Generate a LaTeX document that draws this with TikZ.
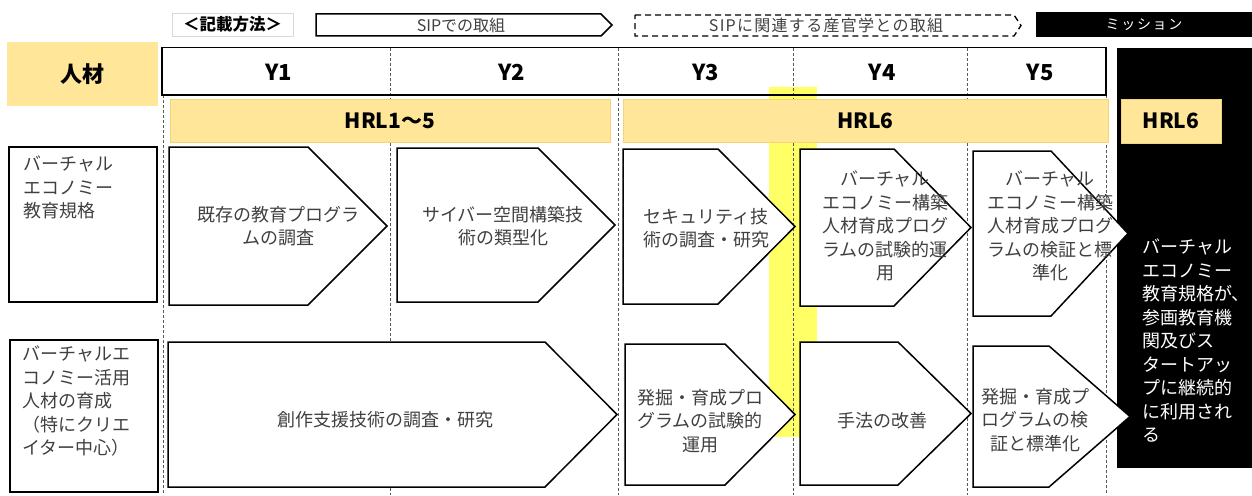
\documentclass[tikz,border=0pt]{standalone}
\usepackage{fontspec}
\setmainfont{Noto Sans CJK JP}
\usepackage{xcolor}
\definecolor{cGold}{HTML}{FFE699}
\definecolor{cGoldLine}{HTML}{F2D47C}
\definecolor{cHigh}{HTML}{FFFF66}
\definecolor{cText}{HTML}{404040}
\definecolor{cGrid}{HTML}{595959}
\definecolor{cLegend}{HTML}{D9D9D9}
\usepackage{tikz}
\usetikzlibrary{positioning}
\tikzset{
  box-label/.style={draw=black,line width=1.4pt},
  box-legend/.style={draw=cLegend,line width=0.8pt,inner sep=0pt,
    minimum width=121pt,minimum height=23pt,
    font=\fontsize{16.5}{19}\selectfont\bfseries},
  box-mission/.style={fill=black,inner sep=0pt,text=white,
    font=\fontsize{14}{17}\selectfont\addfontfeature{LetterSpace=12}},
  bar-gold/.style={fill=cGold,draw=cGoldLine,line width=0.6pt,inner sep=0pt},
  chev/.style={draw=black,line width=1.5pt,fill=white,line join=miter},
  text-label/.style={anchor=north west,align=left,inner sep=0pt,
    font=\fontsize{18}{23.5}\selectfont,text=cText},
  text-chev/.style={align=center,inner sep=0pt,
    font=\fontsize{18}{23.5}\selectfont,text=cText},
  text-legend/.style={inner sep=0pt,font=\fontsize{16}{19}\selectfont,text=cText},
  text-head/.style={font=\fontsize{22}{26}\selectfont\bfseries,text=black},
  text-hrl/.style={font=\fontsize{21}{25}\selectfont\bfseries,text=black},
  grid-line/.style={draw=cGrid,line width=0.7pt,dash pattern=on 3pt off 2pt},
}
% #2 left, #3 shoulder, #4 tip, #5 top, #6 bottom
\newcommand{\chevronshape}[6][]{%
  \draw[chev,#1] (#2,#5) -- (#3,#5) -- (#4,{(#5+#6)/2}) -- (#3,#6)
    -- (#2,#6) -- cycle;}

\begin{document}
\begin{tikzpicture}[x=1pt,y=-1pt]
  \useasboundingbox (0,0) rectangle (1252,495);
  % legend
  \node[box-legend] (legend) at (232.5,24.5) {＜記載方法＞};
  \chevronshape{316}{601}{612}{14}{36}
  \node[text-legend] (legend-sip) at (461,25) {SIPでの取組};
  \chevronshape[dash pattern=on 6pt off 4pt,line width=1.3pt]{635}{1014}{1021}{15}{36}
  \node[text-legend,font=\fontsize{16}{19}\selectfont\addfontfeature{LetterSpace=8}]
    (legend-rel) at (826,25) {SIPに関連する産官学との取組};
  \node[box-mission,minimum width=216pt,minimum height=25pt] (legend-mis)
    at (1144,24.5) {ミッション};

  % highlight and grid
  \fill[cHigh] (769,87) rectangle (817,437);
  \foreach \gx in {390,618,793,967}
    \draw[grid-line] (\gx,48) -- (\gx,495);
  \foreach \gx in {163,1106}
    \draw[grid-line] (\gx,95) -- (\gx,495);

  % header
  \node[bar-gold,draw=none,minimum width=151pt,minimum height=64pt,text-head]
    (jinzai) at (82.5,74) {人材};
  \draw[line width=1.4pt] (162,47.5) rectangle (1106,95);
  \node[text-head] (y1) at (279,72) {Y1};
  \node[text-head] (y2) at (512,72) {Y2};
  \node[text-head] (y3) at (706,72) {Y3};
  \node[text-head] (y4) at (882,72) {Y4};
  \node[text-head] (y5) at (1040,72) {Y5};
  \node[bar-gold,minimum width=440pt,minimum height=43pt,text-hrl]
    (hrl-a) at (390,120.5) {HRL1〜5};
  \node[bar-gold,minimum width=485pt,minimum height=43pt,text-hrl]
    (hrl-b) at (865.5,120.5) {HRL6};

  % mission column
  \fill[black] (1117,48) rectangle (1252,468);
  \node[bar-gold,minimum width=100pt,minimum height=44pt,text-hrl]
    (hrl-m) at (1171,121) {HRL6};
  \node[text-label,text=white] (goal) at (1142,239)
    {バーチャル\\エコノミー\\教育規格が、\\参画教育機\\関及びス\\タートアッ\\プに継続的\\に利用され\\る};

  % row 1
  \draw[box-label] (9,147) rectangle (157,302);
  \node[text-label] (row-a) at (23,156) {バーチャル\\エコノミー\\教育規格};
  \chevronshape{169}{308}{387}{147}{305}
  \node[text-chev] (a1) at (278,226) {既存の教育プログラ\\ムの調査};
  \chevronshape{397}{538}{615}{148}{302}
  \node[text-chev] (a2) at (503,226) {サイバー空間構築技\\術の類型化};
  \chevronshape{623}{718}{795}{149}{304}
  \node[text-chev] (a3) at (706,228) {セキュリティ技\\術の調査・研究};
  \chevronshape{800}{894}{971}{149}{306}
  \node[text-chev] (a4) at (885,226)
    {バーチャル\\エコノミー構築\\人材育成プログ\\ラムの試験的運\\用};
  \chevronshape{973}{1051}{1128}{151}{316}
  \node[text-chev] (a5) at (1050,226)
    {バーチャル\\エコノミー構築\\人材育成プログ\\ラムの検証と標\\準化};

  % row 2
  \draw[box-label] (10,340) rectangle (158,492);
  \node[text-label] (row-b) at (22,346)
    {バーチャルエ\\コノミー活用\\人材の育成\\（特にクリエ\\イター中心）};
  \chevronshape{168}{545}{617}{342}{487}
  \node[text-chev] (b1) at (385,420) {創作支援技術の調査・研究};
  \chevronshape{625}{725}{795}{344}{485}
  \node[text-chev] (b2) at (700,421) {発掘・育成プロ\\グラムの試験的\\運用};
  \chevronshape{800}{898}{971}{342}{485}
  \node[text-chev] (b3) at (882,421) {手法の改善};
  \chevronshape{973}{1049}{1130}{346}{487}
  \node[text-chev] (b4) at (1035,420) {発掘・育成プ\\ログラムの検\\証と標準化};
\end{tikzpicture}
\end{document}
